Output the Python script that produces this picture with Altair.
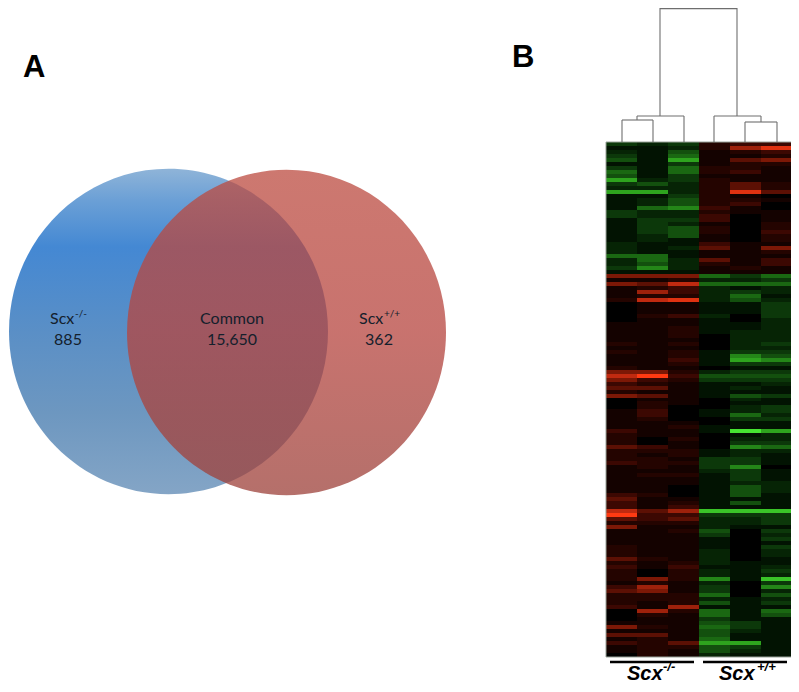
import altair as alt
import pandas as pd

# Heat map rows: six samples per row (green negative, red positive), read top to bottom
rows_upper = [
    (-3,-2,-3,2,3,3),(-1,-1,-2,2,6,8),(-2,-1,-4,1,2,3),(-3,-1,-5,1,1,2),(-4,-1,-7,1,4,5),(-1,-1,-3,1,2,2),
    (-3,-1,-5,2,2,1),(-5,-1,-5,2,3,1),(-4,-1,-3,1,1,1),(-7,-2,-3,2,1,1),(-3,-4,-2,2,4,2),(-2,-2,-2,2,4,2),
    (-7,-7,-2,2,8,4),(-1,-1,-3,2,1,0),(-1,-2,-4,2,2,1),(-1,-2,-4,2,3,0),(-1,-5,-6,3,1,0),(-3,-2,-2,2,1,1),
    (-3,-2,-2,3,0,1),(-1,-3,-3,3,0,1),(-1,-3,-2,1,0,2),(-1,-3,-4,2,0,2),(-1,-3,-4,2,0,3),(-1,-2,-4,1,0,2),
    (-1,-2,-1,1,0,2),(-2,-1,-1,3,1,1),(-2,-1,-2,4,1,5),(-2,-1,-1,1,1,2),(-5,-5,-1,1,1,1),(-2,-5,-2,4,1,3),
    (-2,-4,-2,2,1,3),(-3,-6,-2,1,2,1),(-1,-1,-1,1,1,1),
]
rows_second = [
    (5,5,5,-5,-3,-5),(1,1,2,-2,-2,-3),(5,4,7,-5,-5,-5),(1,2,3,-2,-1,-2),(1,6,3,-2,-3,-2),(1,2,2,-2,-5,-1),
    (2,7,8,-2,-4,-2),(0,1,1,-1,-1,-3),(0,1,1,-1,-1,-3),(0,1,1,-1,-1,-3),(0,2,3,-2,0,-3),(0,1,1,-1,0,-2),
    (1,1,1,-1,-1,-2),(1,1,2,-1,-1,-2),(1,1,2,-1,-2,-2),(1,1,2,0,-2,-2),(1,1,1,0,-2,-2),(2,1,2,0,-2,-3),
    (1,1,1,0,-2,-2),
]
rows_third = [
    (2,1,2,-1,-3,-3),(1,1,2,-1,-6,-4),(1,1,3,-1,-7,-6),(1,1,2,-1,-3,-3),(2,1,1,0,-1,-1),(5,5,2,-2,-3,-3),
    (7,9,3,-4,-4,-4),(5,3,2,-3,-3,-3),(3,2,1,-1,-1,-2),(4,4,1,-1,-2,-1),(2,1,1,-1,-1,-1),(5,4,1,-1,-4,-3),
    (0,1,1,0,-2,-1),(0,2,1,0,-1,-1),(0,2,0,0,-2,-3),(1,3,0,-1,-2,-3),(1,3,0,-1,-5,-2),(1,2,0,0,-3,-3),
    (1,1,1,0,-1,-1),(1,1,2,-1,-1,-1),(3,1,1,-1,-9,-7),(2,1,1,0,-1,-2),(2,0,2,0,-2,-2),(2,0,1,0,-3,-3),
    (4,3,1,0,-6,-5),(2,2,2,-1,-2,-2),(2,1,2,-1,-2,-1),(2,2,1,-3,-3,-1),(3,2,2,-3,-3,-1),(1,2,1,-3,-6,0),
    (1,1,1,-2,-3,-1),(1,2,2,-1,-3,-1),(1,1,1,-1,-3,-1),(1,1,1,-1,-2,-2),(1,1,0,-1,-4,-2),(1,1,0,-1,-4,-2),
    (3,2,0,-1,-4,-1),(4,1,1,-1,-1,-1),(3,1,2,-1,-4,-1),(3,1,3,-1,-1,-1),
]
rows_lower = [
    (7,4,6,-8,-8,-8),(9,3,3,-3,-3,-3),(4,3,4,-2,-2,-3),(2,2,2,-2,-2,-3),(5,1,1,-2,-1,-1),(1,1,2,-4,0,-3),
    (1,1,1,-3,0,-2),(1,1,1,-1,0,-3),(1,1,1,-1,0,-1),(2,1,1,-1,0,-3),(2,1,1,-2,0,-2),(2,1,1,-2,0,-2),
    (4,2,1,-2,0,-1),(2,1,2,-2,-1,-1),(3,1,3,-1,-1,-2),(2,0,2,-2,-1,-3),(2,0,2,-2,-1,-2),(2,5,2,-6,-1,-8),
    (1,2,1,-2,0,-3),(3,6,1,-3,0,-6),(4,5,1,-3,0,-2),(2,2,2,-5,0,-4),(2,2,2,-2,-1,-2),(2,1,2,-4,-1,-3),
    (3,1,6,-1,-1,-1),(0,6,2,-5,-1,-5),(0,2,1,-5,-1,-4),(0,1,1,-3,-1,-1),(1,1,1,-4,-3,-1),(5,2,1,-5,-3,-1),
    (1,1,1,-4,-2,-1),(4,4,1,-4,-1,-1),(1,2,1,-5,-1,-1),(3,2,4,-7,-7,-1),(1,2,2,-4,-3,-1),(1,2,1,-4,-2,-1),
    (0,2,1,-2,-1,-1),
]
all_rows = rows_upper + rows_second + rows_third + rows_lower
col_edges = [606, 637, 668, 699, 730, 761, 792]
row_top, row_step = 142, 515 / len(all_rows)

level_stops = [-9, -7, -5, -3, -2, -1, 0, 1, 2, 3, 5, 7, 9]
level_colors = ["#46e432", "#2ea41e", "#1a6812", "#0c380a", "#062405", "#021302", "#000000",
                "#140200", "#240400", "#3c0802", "#7c1806", "#c02a10", "#ff3a12"]

# Dendrogram branches: x1, x2, y1, y2
branches = [
    (660, 737, 8.6, 8.6), (660, 660, 8, 116), (737, 737, 8, 116),
    (637, 684, 116, 116), (684, 684, 116, 142), (637, 637, 116, 120),
    (622, 653, 120, 120), (622, 622, 120, 142), (653, 653, 120, 142),
    (714, 761, 116, 116), (714, 714, 116, 142), (761, 761, 116, 122),
    (745, 777, 122, 122), (745, 745, 122, 142), (777, 777, 122, 142),
]
group_lines = [(610, 694, 662, 662), (703, 787, 662, 662)]

circle_blue = (168.5, 331.5)
circle_red = (286.5, 332.5)
oval_path = ("M-1,0 C-1,-0.5633 -0.5523,-1.02 0,-1.02 C0.5523,-1.02 1,-0.5633 1,0 "
             "C1,0.5633 0.5523,1.02 0,1.02 C-0.5523,1.02 -1,0.5633 -1,0 Z")

venn_text = [
    ("Scx", 50, 324, "left"), ("885", 68, 345, "center"),
    ("Common", 232, 324, "center"), ("15,650", 232, 345, "center"),
    ("Scx", 359, 324, "left"), ("362", 379, 345, "center"),
]
venn_sup = [("-/-", 75, 317), ("+/+", 384, 317)]
panel_text = [("A", 23, 77), ("B", 512, 67)]
group_text = [("Scx", 627, 680), ("Scx", 719, 680)]
group_sup = [("-/-", 663, 671), ("+/+", 757, 671)]

xs = alt.Scale(domain=[8, 791], range=[0, 783])
ys = alt.Scale(domain=[8, 684], range=[0, 676])
X = lambda f: alt.X(f, type="quantitative", scale=xs, axis=None)
Y = lambda f: alt.Y(f, type="quantitative", scale=ys, axis=None)

cells = pd.DataFrame([
    dict(x=col_edges[c], x2=col_edges[c + 1], y=round(row_top + r * row_step),
         y2=round(row_top + (r + 1) * row_step), v=v)
    for r, row in enumerate(all_rows) for c, v in enumerate(row)
])
heat = alt.Chart(cells).mark_rect(strokeWidth=0).encode(
    x=X("x"), x2="x2", y=Y("y"), y2="y2",
    color=alt.Color("v:Q", legend=None,
                    scale=alt.Scale(domain=level_stops, range=level_colors, interpolate="rgb")),
)
rows_end = round(row_top + row_step * len(all_rows))
frame = alt.Chart(pd.DataFrame([dict(x=col_edges[0], x2=col_edges[-1], y=row_top, y2=rows_end)])).mark_rect(
    filled=False, stroke="#9aa39a", strokeWidth=1
).encode(x=X("x"), x2="x2", y=Y("y"), y2="y2")

seg = lambda rows: pd.DataFrame(rows, columns=["x", "x2", "y", "y2"])
tree = alt.Chart(seg(branches)).mark_rule(color="#6e6e6e", strokeWidth=1.1).encode(
    x=X("x"), x2="x2", y=Y("y"), y2="y2")
under = alt.Chart(seg(group_lines)).mark_rule(color="#000000", strokeWidth=2.5).encode(
    x=X("x"), x2="x2", y=Y("y"), y2="y2")

blue_fill = alt.Gradient(gradient="linear", x1=0, x2=0, y1=0, y2=1, stops=[
    alt.GradientStop(color="#8fb4d8", offset=0), alt.GradientStop(color="#6a9fd6", offset=0.1),
    alt.GradientStop(color="#4488d3", offset=0.24), alt.GradientStop(color="#5a8fc6", offset=0.5),
    alt.GradientStop(color="#6d97c0", offset=0.75), alt.GradientStop(color="#84a5c6", offset=1),
])
red_fill = alt.Gradient(gradient="linear", x1=0, x2=0, y1=0, y2=1, stops=[
    alt.GradientStop(color="#bc4b40", offset=0), alt.GradientStop(color="#b6443e", offset=0.5),
    alt.GradientStop(color="#9c4039", offset=1),
])
blue = alt.Chart(pd.DataFrame([dict(x=circle_blue[0], y=circle_blue[1])])).mark_point(
    shape=oval_path, filled=True, size=319 ** 2, color=blue_fill, opacity=1, strokeWidth=0
).encode(x=X("x"), y=Y("y"))
red = alt.Chart(pd.DataFrame([dict(x=circle_red[0], y=circle_red[1])])).mark_point(
    shape=oval_path, filled=True, size=319 ** 2, color=red_fill, opacity=0.75, strokeWidth=0
).encode(x=X("x"), y=Y("y"))

venn_df = pd.DataFrame(venn_text, columns=["t", "x", "y", "a"])
venn_layers = [
    alt.Chart(venn_df[venn_df.a == a]).mark_text(
        font="Lato", fontSize=16, color="#14202c", align=a, baseline="alphabetic"
    ).encode(x=X("x"), y=Y("y"), text="t:N")
    for a in ["left", "center"]
]
vsup = alt.Chart(pd.DataFrame(venn_sup, columns=["t", "x", "y"])).mark_text(
    font="Lato", fontSize=10, color="#14202c", align="left", baseline="alphabetic"
).encode(x=X("x"), y=Y("y"), text="t:N")
panel = alt.Chart(pd.DataFrame(panel_text, columns=["t", "x", "y"])).mark_text(
    font="Liberation Sans", fontWeight="bold", fontSize=31, color="#000000", align="left", baseline="alphabetic"
).encode(x=X("x"), y=Y("y"), text="t:N")
gt = alt.Chart(pd.DataFrame(group_text, columns=["t", "x", "y"])).mark_text(
    font="Liberation Sans", fontWeight="bold", fontStyle="italic", fontSize=20, color="#000000",
    align="left", baseline="alphabetic"
).encode(x=X("x"), y=Y("y"), text="t:N")
gs = alt.Chart(pd.DataFrame(group_sup, columns=["t", "x", "y"])).mark_text(
    font="Liberation Sans", fontWeight="bold", fontStyle="italic", fontSize=13, color="#000000",
    align="left", baseline="alphabetic"
).encode(x=X("x"), y=Y("y"), text="t:N")

chart = alt.layer(blue, red, *venn_layers, vsup, panel, heat, frame, tree, under, gt, gs).properties(
    width=783, height=676, padding=0, autosize=alt.AutoSizeParams(type="none")
).configure_view(stroke=None)
chart.save("out.html", embed_options={"renderer": "svg", "actions": False})
